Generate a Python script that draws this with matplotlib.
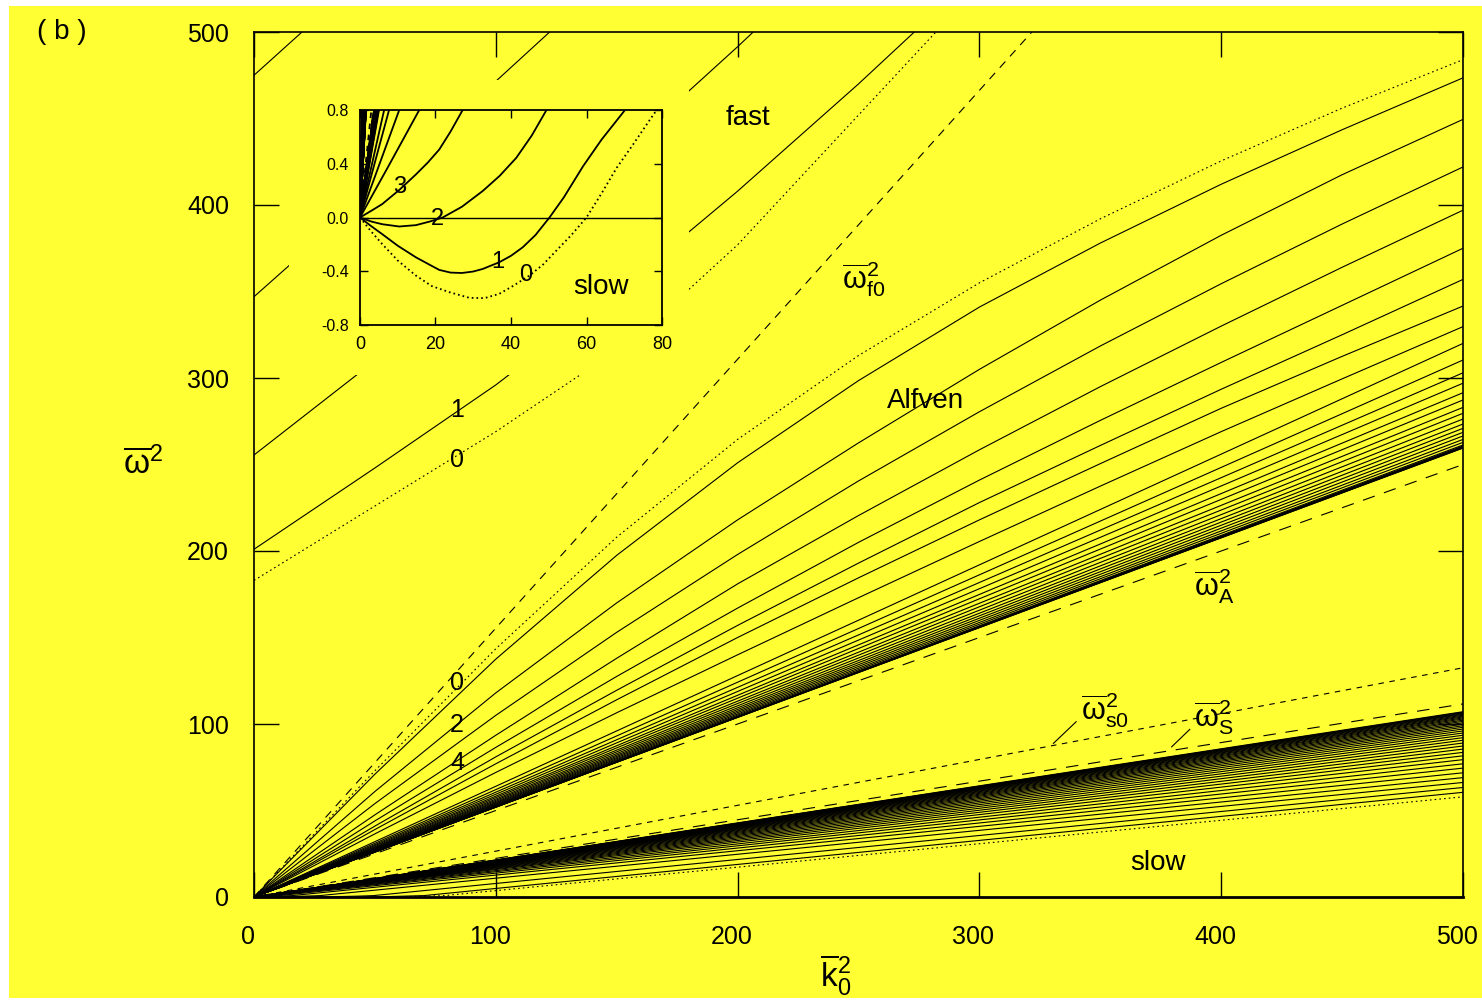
import matplotlib
matplotlib.use('Agg')
import matplotlib.pyplot as plt
from matplotlib.patches import Rectangle
from matplotlib.transforms import ScaledTranslation

plt.rcParams['font.family'] = ['Liberation Sans', 'DejaVu Sans']
plt.rcParams['mathtext.fontset'] = 'custom'
plt.rcParams['mathtext.rm'] = 'Liberation Sans'
plt.rcParams['mathtext.it'] = 'Liberation Sans'
plt.rcParams['mathtext.bf'] = 'Liberation Sans:bold'
plt.rcParams['lines.scale_dashes'] = False

yellow = '#ffff33'

# ---------------- data ----------------
k_grid = [0, 50, 100, 150, 200, 250, 300, 350, 400, 450, 500]

# Alfven family, upper curves (n = 0 dotted, then n = 1..8)
alf_upper = [
    [0, 73, 143.5, 208, 264.5, 313, 355, 392, 425.5, 456, 484],
    [0, 71, 137.5, 197.5, 251, 298.5, 341, 378, 412, 443.5, 473.5],
    [0, 61, 118, 170, 218, 262.5, 305, 345, 382.5, 417.5, 449.5],
    [0, 54, 105, 153, 198, 240.5, 280.5, 318.5, 354.5, 389, 422],
    [0, 47.5, 93.5, 138, 181, 220.5, 258.5, 295, 330, 364, 397],
    [0, 44, 86.5, 127.5, 167, 205, 241, 275.5, 309, 342, 375],
    [0, 41, 81, 119.5, 157, 193, 228, 261, 293.5, 325, 357],
    [0, 39, 77, 114, 150, 184.5, 218, 250.5, 282.5, 312.5, 341.6],
    [0, 36.5, 72, 106.5, 140, 173, 205.5, 237.5, 269, 299.5, 329.7],
]
# Alfven family, remaining curves: value at k=500
alf_end = [320, 310.4, 303, 297, 291.5, 287.3, 283, 279.6, 276.3, 273.4,
           270.9, 268.6, 266.5, 264.5, 262.8, 261.3, 260.7, 260.3, 260.0,
           259.8, 259.6, 259.5]

# fast family (n = 0 dotted, then 1..4)
fast_k = [
    [0, 50, 100, 150, 175, 200, 250, 300],
    [0, 50, 100, 150, 200, 250, 300],
    [0, 50, 100, 150, 200, 250],
    [0, 50, 100, 150],
    [0, 50],
]
fast_w = [
    [183, 226, 269, 316, 345, 377, 452, 527],
    [201, 248, 296, 349.5, 408, 470, 535],
    [255.5, 310, 367.5, 428, 491.5, 557.5],
    [347, 409, 471.5, 535.5],
    [475, 538],
]

# slow family: curve shape near the origin (inset) for n = 0..7
slow_in_k = [
    [0, 3, 5.9, 10, 14.8, 19, 23.7, 29, 33, 36.9, 40.5, 44.9, 48.5, 52,
     56, 60, 64, 68, 72.5, 76.8, 78.6],
    [0, 3, 5.9, 10, 14.8, 19, 21, 24, 27, 30, 32.5, 36.9, 40, 43.1, 46.5,
     50.2, 54, 59.1, 64, 70.2],
    [0, 3, 5.9, 10.4, 14.8, 18.5, 21.9, 27, 32.5, 37, 41.4, 45.5, 49.4],
    [0, 3, 5.9, 10.4, 14.8, 18, 21, 24, 27.2],
    [0, 7.7, 15.7],
    [0, 10.4],
    [0, 7.7],
    [0, 6.4],
]
slow_in_w = [
    [0, -0.105, -0.198, -0.32, -0.432, -0.51, -0.556, -0.598, -0.6, -0.568,
     -0.51, -0.432, -0.35, -0.247, -0.13, 0, 0.18, 0.37, 0.55, 0.728, 0.8],
    [0, -0.065, -0.124, -0.21, -0.296, -0.36, -0.39, -0.41, -0.413, -0.402,
     -0.383, -0.333, -0.285, -0.222, -0.13, 0, 0.15, 0.382, 0.58, 0.8],
    [0, -0.03, -0.05, -0.067, -0.057, -0.03, 0, 0.08, 0.197, 0.31, 0.444,
     0.61, 0.8],
    [0, 0.05, 0.1, 0.205, 0.32, 0.41, 0.506, 0.64, 0.8],
    [0, 0.39, 0.8],
    [0, 0.8],
    [0, 0.8],
    [0, 0.8],
]
# slow family: value at k=500 for every curve (n = 0, 1, 2, ...)
slow_end = [57.9, 60.5, 63.3, 66.2, 69.0, 71.8, 74.5, 77.0, 79.4, 81.6,
            83.6, 85.5, 87.3, 89.0, 90.6, 92.1, 93.5, 94.8, 96.0, 97.1,
            98.1, 99.0, 99.9, 100.7, 101.5, 102.2, 102.9, 103.5, 104.1,
            104.6, 105.1, 105.6, 106.0, 106.4, 106.8, 107.1]

# reference frequencies (straight lines from the origin)
wf0_k, wf0_w = [0, 321.7], [0, 500]
wA_k, wA_w = [0, 500], [0, 250]
wS_k, wS_w = [0, 500], [0, 111.6]
ws0_k, ws0_w = [0, 500], [0, 132.5]


def draw_curves(a, lw):
    dot = (0, (1.2, 2.2))
    for i, w in enumerate(alf_upper):
        a.plot(k_grid, w, color='k', lw=lw, ls=dot if i == 0 else '-')
    for e in alf_end:
        a.plot([0, 500], [0, e], color='k', lw=lw)
    for i in range(len(fast_k)):
        a.plot(fast_k[i], fast_w[i], color='k', lw=lw, ls=dot if i == 0 else '-')
    for i, e in enumerate(slow_end):
        if i < len(slow_in_k):
            kk = slow_in_k[i] + [500]
            ww = slow_in_w[i] + [e]
        else:
            kk, ww = [0, 500], [0, e]
        a.plot(kk, ww, color='k', lw=lw, ls=dot if i == 0 else '-')
    a.plot(wf0_k, wf0_w, color='k', lw=lw, ls=(0, (6, 5)))
    a.plot(wA_k, wA_w, color='k', lw=lw, ls=(0, (9, 7)))
    a.plot(wS_k, wS_w, color='k', lw=lw, ls=(0, (9, 7)))
    a.plot(ws0_k, ws0_w, color='k', lw=lw, ls=(0, (4, 4)))


fig = plt.figure(figsize=(14.82, 10), dpi=100, facecolor='white')
fig.patches.append(Rectangle((0.006, 0.002), 0.994, 0.992, transform=fig.transFigure,
                             facecolor=yellow, edgecolor='none', zorder=-1))

# ---------------- main panel ----------------
ax = fig.add_axes([0.1714, 0.103, 0.8158, 0.865])
ax.set_facecolor('none')
draw_curves(ax, 0.8)
ax.set_xlim(0, 500)
ax.set_ylim(0, 500)
ax.set_xticks([0, 100, 200, 300, 400, 500])
ax.set_yticks([0, 100, 200, 300, 400, 500])
ax.tick_params(direction='in', length=18, width=1, top=True, right=True,
               labelsize=18)
ax.tick_params(axis='y', pad=18)
ax.tick_params(axis='x', pad=20)
shift = ScaledTranslation(-6 / 100, 0, fig.dpi_scale_trans)
for lab in ax.get_xticklabels():
    lab.set_transform(lab.get_transform() + shift)
for s in ax.spines.values():
    s.set_linewidth(1.2)
ax.spines['bottom'].set_linewidth(2)

# leader lines for labels
ax.plot([330.6, 340], [88.8, 101.3], color='k', lw=0.8)
ax.plot([379.5, 387], [86.8, 96.9], color='k', lw=0.8)

fs = 20
ax.text(204.3, 450.3, 'fast', fontsize=fs, ha='center', va='center')
ax.text(252, 357, r'$\overline{\omega}^2_{f0}$', fontsize=fs + 2, ha='center', va='center')
ax.text(277.5, 286.7, 'Alfven', fontsize=fs, ha='center', va='center')
ax.text(397, 180, r'$\overline{\omega}^2_{A}$', fontsize=fs + 2, ha='center', va='center')
ax.text(352, 108, r'$\overline{\omega}^2_{s0}$', fontsize=fs + 2, ha='center', va='center')
ax.text(397, 104, r'$\overline{\omega}^2_{S}$', fontsize=fs + 2, ha='center', va='center')
ax.text(373.9, 19.7, 'slow', fontsize=fs, ha='center', va='center')
for x, y, t in [(84, 281.5, '1'), (84, 252.6, '0'), (84, 123.7, '0'),
                (84, 99.4, '2'), (84, 77.5, '4')]:
    ax.text(x, y, t, fontsize=18, ha='center', va='center')

# yellow frame behind the inset
ax.add_patch(Rectangle((0.195, 0.625), 0.27, 0.295, transform=fig.transFigure,
                       facecolor=yellow, edgecolor='none', zorder=10, clip_on=False))

fig.text(0.042, 0.968, '( b )', fontsize=20, ha='center', va='center')
fig.text(0.0965, 0.536, r'$\overline{\omega}^2$', fontsize=24, ha='center', va='center')
fig.text(0.564, 0.025, r'$\overline{k}^2_0$', fontsize=24, ha='center', va='center')

# ---------------- inset ----------------
axin = fig.add_axes([0.2429, 0.675, 0.2038, 0.215])
axin.set_facecolor(yellow)
draw_curves(axin, 1.3)
axin.axhline(0, color='k', lw=1)
axin.set_xlim(0, 80)
axin.set_ylim(-0.8, 0.8)
axin.set_xticks([0, 20, 40, 60, 80])
axin.set_yticks([-0.8, -0.4, 0, 0.4, 0.8])
axin.set_yticklabels(['-0.8', '-0.4', '0.0', '0.4', '0.8'])
axin.tick_params(direction='in', length=6, width=1, top=True, right=True)
axin.tick_params(axis='y', labelsize=11.5, pad=8)
axin.tick_params(axis='x', labelsize=13, pad=8)
for s in axin.spines.values():
    s.set_linewidth(1.3)
for x, y, t in [(10.6, 0.23, '3'), (20.5, -0.01, '2'), (36.5, -0.33, '1'),
                (44, -0.43, '0')]:
    axin.text(x, y, t, fontsize=17, ha='center', va='center')
axin.text(63.8, -0.52, 'slow', fontsize=20, ha='center', va='center')

fig.savefig('out.png', dpi=100, facecolor=fig.get_facecolor())
